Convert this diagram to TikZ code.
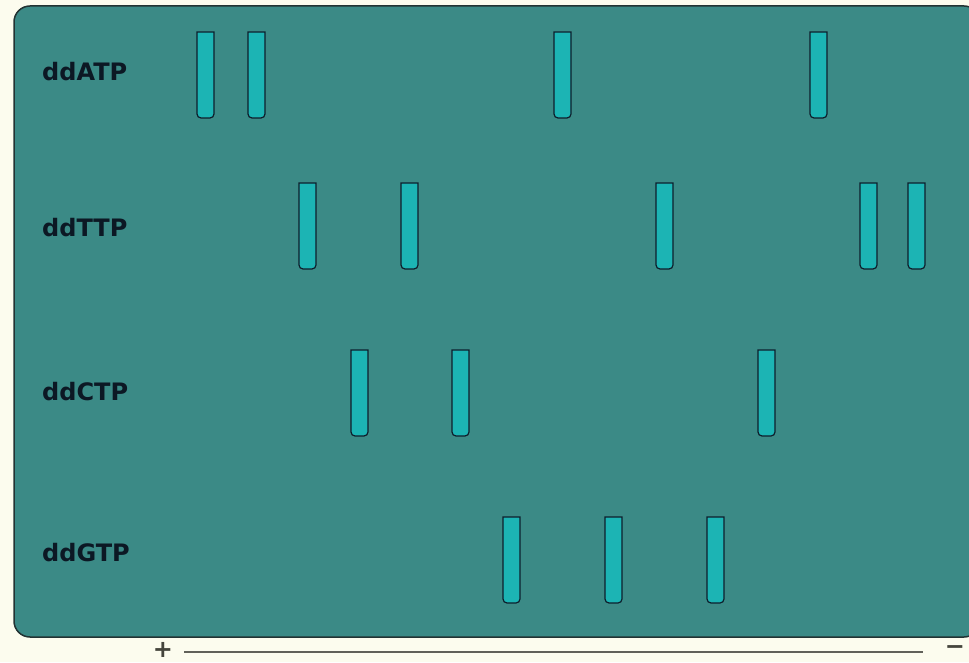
\documentclass[tikz,border=0pt]{standalone}
\usepackage{fontspec}
\setsansfont{DejaVu Sans}
\usetikzlibrary{positioning}
\definecolor{paper}{HTML}{FCFCEE}
\definecolor{gelfill}{HTML}{3B8A86}
\definecolor{gelline}{HTML}{223333}
\definecolor{bandfill}{HTML}{1CB4B4}
\definecolor{bandline}{HTML}{0E1E2C}
\definecolor{lanetext}{HTML}{0C1824}
\definecolor{axisgray}{HTML}{45453C}

\begin{document}
\begin{tikzpicture}[x=1pt, y=1pt,
lane/.style={font=\sffamily\bfseries\fontsize{24}{28}\selectfont, text=lanetext, anchor=west, inner sep=0pt},
band/.style={draw=bandline, fill=bandfill, line width=1.2pt},
gel/.style={draw=gelline, fill=gelfill, line width=1.5pt, rounded corners=16pt},
pole/.style={font=\sffamily\bfseries\fontsize{24}{26}\selectfont, text=axisgray, inner sep=0pt},
axis/.style={draw=axisgray!85, line width=2.2pt}
]
\path[fill=paper, use as bounding box] (0,0) rectangle (969,662);
\clip (0,0) rectangle (969,662);

% gel
\draw[gel] (14,25) rectangle (980,656);

% lanes
\node[lane] (ddA) at (42,590) {ddATP};
\node[lane] (ddT) at (42,434) {ddTTP};
\node[lane] (ddC) at (42,270) {ddCTP};
\node[lane] (ddG) at (42,109) {ddGTP};

% bands (bottom/top of each row, then x positions)
\foreach \b/\t/\xs in {544/630/{197,248,554,810},
                       393/479/{299,401,656,860,908},
                       226/312/{351,452,758},
                       59/145/{503,605,707}}
  \foreach \x in \xs
    \draw[band] (\x,\t) -- (\x,\b+4) arc[start angle=180, end angle=270, radius=4pt]
      -- (\x+13,\b) arc[start angle=270, end angle=360, radius=4pt] -- (\x+17,\t) -- cycle;

% electrodes
\node[pole] (plus) at (163,12.5) {+};
\node[pole] (minus) at (955,12) {−};
\draw[axis] ([xshift=11pt]plus.east |- 0,10) -- ([xshift=-22pt]minus.west |- 0,10);
\end{tikzpicture}
\end{document}
